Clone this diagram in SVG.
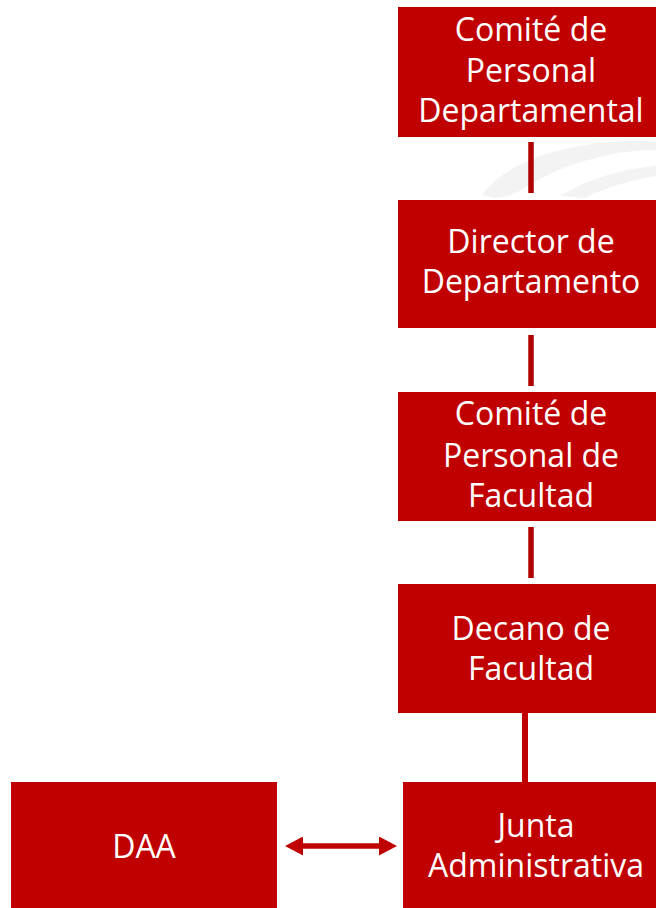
<svg xmlns="http://www.w3.org/2000/svg" width="656" height="908" viewBox="0 0 656 908">
<style>
.box{fill:#C00000;}
.lbl{font-family:"Open Sans","Liberation Sans",sans-serif;font-size:32px;fill:#FFFFFF;text-anchor:middle;}
.conn{stroke:#B00000;stroke-width:5.5;fill:none;}
</style>
<defs>
<marker id="ah" viewBox="0 0 18 19" refX="0" refY="9.5" markerWidth="18" markerHeight="19" markerUnits="userSpaceOnUse" orient="auto-start-reverse">
<path d="M0,0 L18,9.5 L0,19 Z" fill="#C00000"/>
</marker>
</defs>
<rect width="656" height="908" fill="#FFFFFF"/>
<g id="watermark" fill="#F3F3F3">
<path d="M482,195 C500,170 540,150 600,143 C630,140 650,141 656,142 L656,150 C620,150 570,160 530,185 C515,194 505,198 495,198 Z"/>
<path d="M560,196 C590,178 625,168 656,166 L656,176 C630,180 605,188 585,198 Z"/>
</g>
<g id="connectors">
<line class="conn" x1="531" y1="142" x2="531" y2="193"/>
<line class="conn" x1="531" y1="335" x2="531" y2="386"/>
<line class="conn" x1="531" y1="527" x2="531" y2="578"/>
<line class="conn" x1="525" y1="713" x2="525" y2="782" style="stroke:#C00000;stroke-width:6"/>
<line x1="303" y1="846" x2="379" y2="846" stroke="#C00000" stroke-width="5.5" marker-start="url(#ah)" marker-end="url(#ah)"/>
</g>
<g id="n1">
<rect class="box" x="398" y="7" width="268" height="130"/>
<text class="lbl"><tspan x="531" y="41">Comité de</tspan><tspan x="531" y="82">Personal</tspan><tspan x="531" y="122">Departamental</tspan></text>
</g>
<g id="n2">
<rect class="box" x="398" y="200" width="268" height="128"/>
<text class="lbl"><tspan x="531" y="253">Director de</tspan><tspan x="531" y="293">Departamento</tspan></text>
</g>
<g id="n3">
<rect class="box" x="398" y="392" width="268" height="129"/>
<text class="lbl"><tspan x="531" y="425">Comité de</tspan><tspan x="531" y="467">Personal de</tspan><tspan x="531" y="507">Facultad</tspan></text>
</g>
<g id="n4">
<rect class="box" x="398" y="584" width="268" height="129"/>
<text class="lbl"><tspan x="531" y="640">Decano de</tspan><tspan x="531" y="680">Facultad</tspan></text>
</g>
<g id="n5">
<rect class="box" x="403" y="782" width="268" height="126"/>
<text class="lbl"><tspan x="536" y="837">Junta</tspan><tspan x="536" y="877">Administrativa</tspan></text>
</g>
<g id="daa">
<rect class="box" x="11" y="782" width="266" height="126"/>
<text class="lbl" x="144" y="858">DAA</text>
</g>
</svg>
